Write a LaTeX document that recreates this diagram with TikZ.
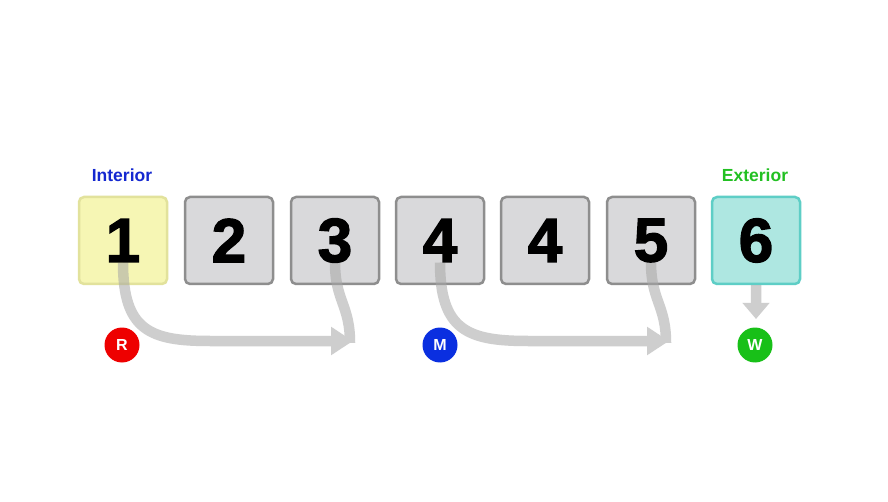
\documentclass[tikz,border=0pt]{standalone}
\usepackage{fontspec}
\setmainfont{Liberation Sans}
\usetikzlibrary{arrows.meta}
\font\digitfont="Liberation Sans/B:embolden=2.2" at 62pt
\definecolor{boxgray}{HTML}{D9D9DB}
\definecolor{boxedge}{HTML}{8E8E8E}
\definecolor{yelfill}{HTML}{F6F6B4}
\definecolor{yeledge}{HTML}{E2E29C}
\definecolor{tealfill}{HTML}{AEE7E1}
\definecolor{tealedge}{HTML}{5ECEC6}
\definecolor{arrgray}{HTML}{A6A6A6}
\definecolor{intblue}{HTML}{1428D0}
\definecolor{extgreen}{HTML}{22C022}
\definecolor{cred}{HTML}{EE0000}
\definecolor{cblue}{HTML}{0A2FE0}
\definecolor{cgreen}{HTML}{18C018}
\tikzset{
  cell/.style={draw=boxedge, fill=boxgray, line width=2.5pt, rounded corners=5pt,
    minimum width=88pt, minimum height=87pt, inner sep=0pt},
  digit/.style={font=\digitfont, text=black, inner sep=0pt},
  tag/.style={font=\fontsize{17.5}{18}\selectfont\bfseries, inner sep=0pt},
  badge/.style={circle, minimum size=35pt, inner sep=0pt, text=white,
    font=\fontsize{16}{16}\selectfont\bfseries},
  flow/.style={draw=arrgray, line width=10.5pt},
  bighead/.style={-{Triangle[length=22pt,width=27pt]}},
  smallhead/.style={-{Triangle[length=16pt,width=26pt]}},
}
\begin{document}
\begin{tikzpicture}[x=1pt,y=-1pt]
\useasboundingbox[fill=white] (0,0) rectangle (888,502);

% boxes
\node[cell, fill=yelfill, draw=yeledge] (b1) at (123,240.5) {};
\node[cell] (b2) at (229,240.5) {};
\node[cell] (b3) at (335,240.5) {};
\node[cell] (b4) at (440,240.5) {};
\node[cell] (b5) at (545,240.5) {};
\node[cell] (b6) at (651,240.5) {};
\node[cell, fill=tealfill, draw=tealedge] (b7) at (756,240.5) {};

% labels
\node[tag, text=intblue] (lint) at (122,175) {Interior};
\node[tag, text=extgreen] (lext) at (755,175) {Exterior};

% badges
\node[badge, fill=cred] (cR) at (122,345) {R};
\node[badge, fill=cblue] (cM) at (440,345) {M};
\node[badge, fill=cgreen] (cW) at (755,345) {W};

% arrow targets
\coordinate (t1) at (353,341);
\coordinate (t2) at (669,341);
\coordinate (t3) at (756,319);

% flows
\begin{scope}[transparency group, opacity=0.55]
\draw[flow, bighead] ([yshift=-22pt]b1.center) .. controls +(0,68) and (150,341) .. (210,341) -- (t1);
\draw[flow] ([yshift=-22pt]b3.center) .. controls +(0,38) and (350,305) .. ([xshift=-3pt,yshift=-2pt]t1);
\end{scope}
\begin{scope}[transparency group, opacity=0.55]
\draw[flow, bighead] ([yshift=-22pt]b4.center) .. controls +(0,68) and (468,341) .. (528,341) -- (t2);
\draw[flow] ([yshift=-22pt]b6.center) .. controls +(0,38) and (666,305) .. ([xshift=-3pt,yshift=-2pt]t2);
\end{scope}
\begin{scope}[transparency group, opacity=0.55]
\draw[flow, smallhead] (b7.south) -- (t3);
\end{scope}

% digits
\node[digit] (d1) at (b1) {1};
\node[digit] (d2) at (b2) {2};
\node[digit] (d3) at (b3) {3};
\node[digit] (d4) at (b4) {4};
\node[digit] (d5) at (b5) {4};
\node[digit] (d6) at (b6) {5};
\node[digit] (d7) at (b7) {6};
\end{tikzpicture}
\end{document}
